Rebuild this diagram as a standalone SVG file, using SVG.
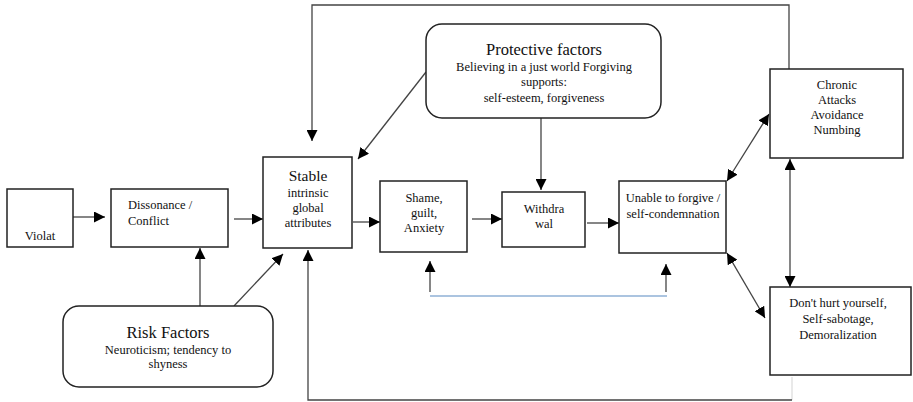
<svg xmlns="http://www.w3.org/2000/svg" width="913" height="402" viewBox="0 0 913 402">
<style>
.box{fill:#fff;stroke:#222;stroke-width:1.5}
.t{font-family:"Liberation Serif","Times New Roman",serif;font-size:12.5px;fill:#111;text-anchor:middle}
.h{font-size:16.5px}
.c{fill:none;stroke:#444;stroke-width:1.3}
.faint{fill:none;stroke:#ddd;stroke-width:1.3}
.blue{fill:none;stroke:#8fb0d6;stroke-width:1.3}
</style>
<defs>
<marker id="ah" viewBox="0 0 10 10" refX="10" refY="5" markerWidth="11" markerHeight="11" markerUnits="userSpaceOnUse" orient="auto-start-reverse">
<path d="M0,0 L10,5 L0,10 Z" fill="#000"/>
</marker>
</defs>
<g id="connectors">
<line class="c" x1="73" y1="217" x2="105" y2="217" marker-end="url(#ah)"/>
<line class="c" x1="234" y1="219" x2="263" y2="219" marker-end="url(#ah)"/>
<line class="c" x1="353" y1="222" x2="380" y2="222" marker-end="url(#ah)"/>
<line class="c" x1="472" y1="219" x2="502" y2="219" marker-end="url(#ah)"/>
<line class="c" x1="587" y1="223" x2="619" y2="223" marker-end="url(#ah)"/>
<polyline class="c" points="789,70 789,5 312,5 312,141" marker-end="url(#ah)"/>
<line class="c" x1="426" y1="72" x2="358" y2="159" marker-end="url(#ah)"/>
<line class="c" x1="541" y1="118" x2="541" y2="190" marker-end="url(#ah)"/>
<line class="c" x1="200" y1="306" x2="200" y2="248" marker-end="url(#ah)"/>
<line class="c" x1="234" y1="306" x2="283" y2="254" marker-end="url(#ah)"/>
<line class="faint" x1="792" y1="377" x2="792" y2="400"/>
<polyline class="c" points="792,400 308,400 308,250" marker-end="url(#ah)"/>
<line class="c" x1="430" y1="292" x2="430" y2="261" marker-end="url(#ah)"/>
<line class="c" x1="666" y1="292" x2="666" y2="264" marker-end="url(#ah)"/>
<line class="blue" x1="430" y1="296" x2="667" y2="296"/>
<line class="c" x1="727" y1="181" x2="769" y2="114" marker-start="url(#ah)" marker-end="url(#ah)"/>
<line class="c" x1="727" y1="253" x2="765" y2="318" marker-start="url(#ah)" marker-end="url(#ah)"/>
<line class="c" x1="790" y1="159" x2="790" y2="287" marker-start="url(#ah)" marker-end="url(#ah)"/>
</g>
<g id="violat">
<rect class="box" x="7" y="189" width="66" height="58"/>
<text class="t" x="40" y="240">Violat</text>
</g>
<g id="dissonance">
<rect class="box" x="111" y="189" width="117" height="58"/>
<text class="t" x="128" y="209" style="text-anchor:start">Dissonance /</text>
<text class="t" x="128" y="225" style="text-anchor:start">Conflict</text>
</g>
<g id="stable">
<rect class="box" x="263" y="157" width="89" height="91"/>
<text class="t" x="308" y="181" style="font-size:15.5px">Stable</text>
<text class="t" x="308" y="197">intrinsic</text>
<text class="t" x="308" y="212">global</text>
<text class="t" x="308" y="227">attributes</text>
</g>
<g id="shame">
<rect class="box" x="380" y="181" width="87" height="71"/>
<text class="t" x="424" y="202">Shame,</text>
<text class="t" x="424" y="217">guilt,</text>
<text class="t" x="424" y="232">Anxiety</text>
</g>
<g id="withdrawal">
<rect class="box" x="502" y="192" width="83" height="55"/>
<text class="t" x="544" y="213">Withdra</text>
<text class="t" x="544" y="228">wal</text>
</g>
<g id="unable">
<rect class="box" x="619" y="181" width="107" height="72"/>
<text class="t" x="673" y="202">Unable to forgive /</text>
<text class="t" x="673" y="218">self-condemnation</text>
</g>
<g id="protective">
<rect class="box" x="426" y="24" width="235" height="94" rx="16" ry="16"/>
<text class="t h" x="544" y="55">Protective factors</text>
<text class="t" x="544" y="71">Believing in a just world Forgiving</text>
<text class="t" x="544" y="86">supports:</text>
<text class="t" x="544" y="102">self-esteem, forgiveness</text>
</g>
<g id="risk">
<rect class="box" x="63" y="306" width="210" height="81" rx="16" ry="16"/>
<text class="t h" x="168" y="338">Risk Factors</text>
<text class="t" x="168" y="354">Neuroticism; tendency to</text>
<text class="t" x="168" y="368">shyness</text>
</g>
<g id="chronic">
<rect class="box" x="770" y="69" width="133" height="89"/>
<text class="t" x="837" y="89">Chronic</text>
<text class="t" x="837" y="104">Attacks</text>
<text class="t" x="837" y="119">Avoidance</text>
<text class="t" x="837" y="134">Numbing</text>
</g>
<g id="donthurt">
<rect class="box" x="770" y="287" width="141" height="88"/>
<text class="t" x="838" y="307">Don't hurt yourself,</text>
<text class="t" x="838" y="323">Self-sabotage,</text>
<text class="t" x="838" y="339">Demoralization</text>
</g>
</svg>
